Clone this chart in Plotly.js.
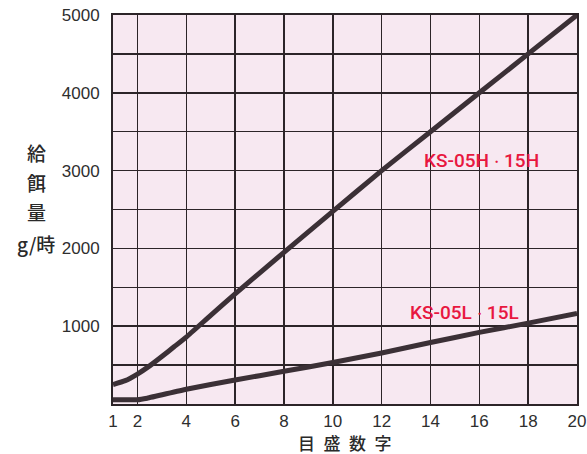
<!DOCTYPE html>
<html>
<head>
<meta charset="utf-8">
<script src="https://cdn.plot.ly/plotly-3.0.1.min.js"></script>
<style>html,body{margin:0;padding:0;background:#fff;}#chart{width:587px;height:454px;}</style>
</head>
<body>
<div id="chart"></div>
<script>
// Data
const hX = [1, 1.5, 2, 2.5, 3, 3.5, 4, 5, 6, 8, 10, 12, 14, 16, 18, 20];
const hY = [250, 300, 385, 490, 610, 735, 860, 1140, 1415, 1950, 2475, 3000, 3500, 4000, 4500, 5000];
const lX = [1, 2, 2.4, 4, 6, 8, 10, 12, 14, 16, 18, 20];
const lY = [55, 55, 75, 190, 308, 420, 533, 655, 790, 920, 1040, 1165];
const xTicks = [1, 2, 4, 6, 8, 10, 12, 14, 16, 18, 20];
const yTicks = [1000, 2000, 3000, 4000, 5000];
const yTitleLines = ['給', '餌', '量', 'g/時'];
const xTitle = '目 盛 数 字';
const seriesLabels = ['KS-05H・15H', 'KS-05L・15L'];

const lineColor = '#3b3036';
const gridColor = '#2c2428';
const red = '#e8173f';

const traces = [
  {x: hX, y: hY, mode: 'lines', line: {color: lineColor, width: 5, shape: 'spline', smoothing: 0.5}, hoverinfo: 'skip'},
  {x: lX, y: lY, mode: 'lines', line: {color: lineColor, width: 5, shape: 'spline', smoothing: 0.4}, hoverinfo: 'skip'}
];

const tickFont = {family: 'Liberation Sans, Arial, sans-serif', size: 17, color: '#2e2e2e'};
const cjk = 'Noto Sans CJK JP, sans-serif';
const labelFont = {family: 'Roboto, Liberation Sans, sans-serif', size: 19, color: red, weight: 500};

// narrower middle dot, same character
const fmtLabel = s => s.replace('・', '<span style="font-size:15px">・</span>');

const annotations = [];
const yTitlePos = [152, 182, 211, 243];
yTitleLines.forEach((t, i) => {
  annotations.push({
    text: t, xref: 'paper', yref: 'paper',
    x: (36 - 113) / 464, y: (404 - yTitlePos[i]) / 389,
    showarrow: false, xanchor: 'center', yanchor: 'middle',
    font: {family: cjk, size: 19, color: '#2a2a2a', weight: 500}
  });
});
annotations.push({
  text: xTitle.split(' ').join('\u2002'), xref: 'paper', yref: 'paper',
  x: (345 - 113) / 464, y: (404 - 442) / 389,
  showarrow: false, xanchor: 'center', yanchor: 'middle',
  font: {family: cjk, size: 17, color: '#2a2a2a', weight: 500}
});
annotations.push({
  text: fmtLabel(seriesLabels[0]), x: 16.07, y: 3136, xref: 'x', yref: 'y',
  showarrow: false, xanchor: 'center', yanchor: 'middle', font: labelFont
});
annotations.push({
  text: fmtLabel(seriesLabels[1]), x: 15.41, y: 1182, xref: 'x', yref: 'y',
  showarrow: false, xanchor: 'center', yanchor: 'middle', font: labelFont
});

const layout = {
  width: 587, height: 454,
  margin: {l: 113, r: 10, t: 15, b: 50},
  paper_bgcolor: '#ffffff',
  plot_bgcolor: '#f7e8f1',
  showlegend: false,
  xaxis: {
    range: [1, 20], tickvals: xTicks, ticktext: xTicks.map(String),
    showgrid: true, gridcolor: gridColor, gridwidth: 1.5,
    showline: true, mirror: true, linecolor: gridColor, linewidth: 2,
    zeroline: false, ticks: '', tickfont: tickFont, ticklabelstandoff: 1, fixedrange: true
  },
  yaxis: {
    range: [0, 5000], tickvals: yTicks, ticktext: yTicks.map(String),
    showgrid: true, gridcolor: gridColor, gridwidth: 1.5,
    minor: {dtick: 500, showgrid: true, gridcolor: gridColor, gridwidth: 1.5},
    showline: true, mirror: true, linecolor: gridColor, linewidth: 2,
    zeroline: false, ticks: '', tickfont: tickFont, ticklabelstandoff: 8, fixedrange: true
  },
  annotations: annotations
};

Plotly.newPlot('chart', traces, layout, {displayModeBar: false, staticPlot: true});
</script>
</body>
</html>
